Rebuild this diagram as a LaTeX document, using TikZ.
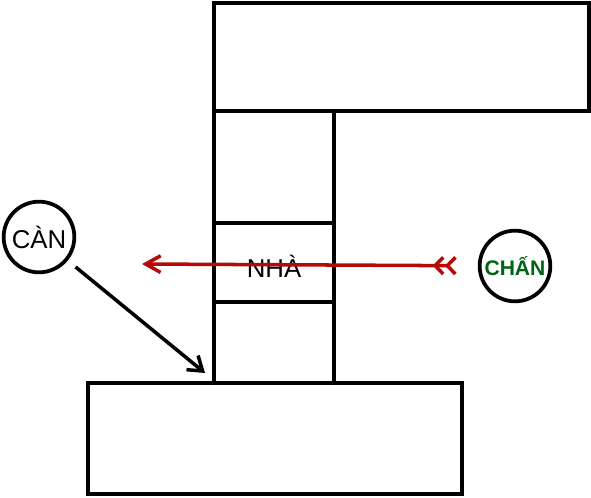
\documentclass[tikz,border=0pt]{standalone}
\usepackage{fontspec}
\setmainfont{Liberation Sans}
\usetikzlibrary{arrows.meta}
\definecolor{arrowred}{RGB}{180,10,10}
\definecolor{labelgreen}{RGB}{0,100,20}

\begin{document}
\begin{tikzpicture}[x=0.03cm,y=-0.03cm,
    ring/.style={circle,draw,line width=3.2pt,inner sep=0pt,minimum size=2.12cm},
    big/.style={font=\fontsize{22}{26}\selectfont}]
        \useasboundingbox (0,0) rectangle (591,497);

        % Blocks: top, bottom, column
        \draw[line width=4.2pt] (214,3) rectangle (589,111);
        \draw[line width=4.2pt] (88,383) rectangle (462,494);
        \draw[line width=4.2pt] (214,111) rectangle (334,383);
        \draw[line width=4.2pt] (214,223) -- (334,223);
        \draw[line width=4.2pt] (214,302) -- (334,302);

        % Labels
        \node[big] (nha) at (274,266) {NHÀ};
        \node[ring,big] (can) at (39,237) {CÀN};
        \node[ring,text=labelgreen,font=\bfseries\fontsize{18}{22}\selectfont] (chan) at (515,266) {CHẤN};

        % Free ends of the arrows
        \coordinate (redtip) at (142,264);
        \coordinate (cantip) at (205,373);

        % Arrows
        \draw[arrowred,line width=3pt,shorten <=0.62cm,
              arrows={{Straight Barb[reversed,length=0.24cm,width=0.5cm]Straight Barb[reversed,length=0.24cm,width=0.5cm]}-{Straight Barb[length=0.45cm,width=0.5cm]}}]
              (chan) -- (redtip);
        \draw[line width=3pt,shorten <=0.3cm,-{Straight Barb[length=0.4cm,width=0.55cm]}]
              (can) -- (cantip);
    \end{tikzpicture}
\end{document}
